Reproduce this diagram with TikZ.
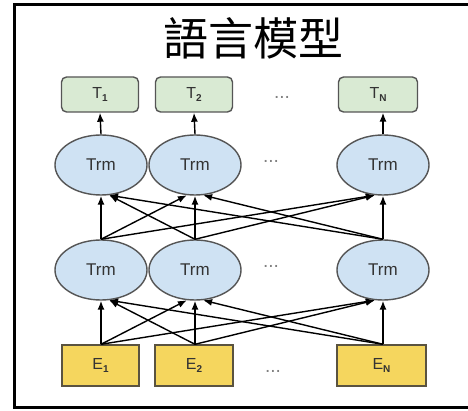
\documentclass[tikz,border=0pt]{standalone}
\usepackage{fontspec}
\setmainfont{Liberation Sans}
\newfontfamily\cjk{Noto Sans CJK TC}
\usetikzlibrary{arrows.meta,shapes.geometric}
\definecolor{tokfill}{HTML}{D9EAD3}
\definecolor{trmfill}{HTML}{CFE2F3}
\definecolor{embfill}{HTML}{F5D65E}
\definecolor{edgegray}{HTML}{555555}
\definecolor{embedge}{HTML}{5A5340}
\definecolor{labelgray}{HTML}{333333}
\tikzset{
  x=1pt, y=-1pt,
  outbox/.style={draw=edgegray, line width=1.4pt, fill=tokfill, rounded corners=5pt,
    minimum width=77pt, minimum height=35pt, inner sep=0pt, text=labelgray,
    font=\fontsize{16}{16}\selectfont},
  trm/.style={ellipse, draw=edgegray, line width=1.4pt, fill=trmfill,
    minimum width=92pt, minimum height=60pt, inner sep=0pt, text=labelgray,
    font=\fontsize{17}{17}\selectfont},
  embbox/.style={draw=embedge, line width=1.4pt, fill=embfill,
    minimum height=41pt, inner sep=0pt, text=labelgray,
    font=\fontsize{16}{16}\selectfont},
  link/.style={line width=1.4pt, -{Latex[length=9pt,width=7pt]}},
  gapdots/.style={text=gray, font=\fontsize{19}{19}\selectfont},
}
\newcommand{\lbl}[2]{#1\raisebox{-0.45ex}{\fontsize{10}{10}\selectfont\bfseries #2}}
\begin{document}
\begin{tikzpicture}
\useasboundingbox (0,0) rectangle (468,411);
\clip (0,0) rectangle (468,411);
\fill[white] (0,0) rectangle (468,411);
% outer frame, open on the right
\draw[line width=3pt] (480,5) -- (14,5) -- (14,407) -- (480,407);
% title
\node (title) at (253,38) {\cjk\fontsize{45}{45}\selectfont 語言模型};
% output tokens
\node[outbox] (t1) at (100,94.5) {\lbl{T}{1}};
\node[outbox] (t2) at (194,94.5) {\lbl{T}{2}};
\node[outbox, minimum width=79pt] (tn) at (378,94.5) {\lbl{T}{N}};
\node[gapdots] (dt) at (282,97) {...};
% upper transformer layer
\node[trm] (u1) at (101,165) {Trm};
\node[trm] (u2) at (195,165) {Trm};
\node[trm] (un) at (383,165) {Trm};
\node[gapdots] (du) at (271,161) {...};
% lower transformer layer
\node[trm] (l1) at (101,270) {Trm};
\node[trm] (l2) at (195,270) {Trm};
\node[trm] (ln) at (383,270) {Trm};
\node[gapdots] (dl) at (271,266) {...};
% input embeddings
\node[embbox, minimum width=77pt] (e1) at (100.5,365.5) {\lbl{E}{1}};
\node[embbox, minimum width=78pt] (e2) at (194,365.5) {\lbl{E}{2}};
\node[embbox, minimum width=89pt] (en) at (381.5,365.5) {\lbl{E}{N}};
\node[gapdots] (de) at (273,371) {...};
% embeddings -> lower layer
\coordinate (e1o) at (e1.north -| l1.south);
\coordinate (e2o) at (e2.north -| l2.south);
\coordinate (eno) at (en.north -| ln.south);
\draw[link] (e1o) -- (l1.south);
\draw[link] (e1o) -- (l2.255);
\draw[link] (e1o) -- (ln.255);
\draw[link] (e2o) -- (l1.285);
\draw[link] (e2o) -- (l2.south);
\draw[link] (e2o) -- (ln.255);
\draw[link] (eno) -- (l1.285);
\draw[link] (eno) -- (l2.285);
\draw[link] (eno) -- (ln.south);
% lower layer -> upper layer
\draw[link] (l1.north) -- (u1.south);
\draw[link] (l1.north) -- (u2.255);
\draw[link] (l1.north) -- (un.255);
\draw[link] (l2.north) -- (u1.285);
\draw[link] (l2.north) -- (u2.south);
\draw[link] (l2.north) -- (un.255);
\draw[link] (ln.north) -- (u1.285);
\draw[link] (ln.north) -- (u2.285);
\draw[link] (ln.north) -- (un.south);
% upper layer -> outputs
\draw[link] (u1.north) -- (t1.south);
\draw[link] (u2.north) -- (t2.south);
\draw[link] (un.north) -- (un |- tn.south);
\end{tikzpicture}
\end{document}
